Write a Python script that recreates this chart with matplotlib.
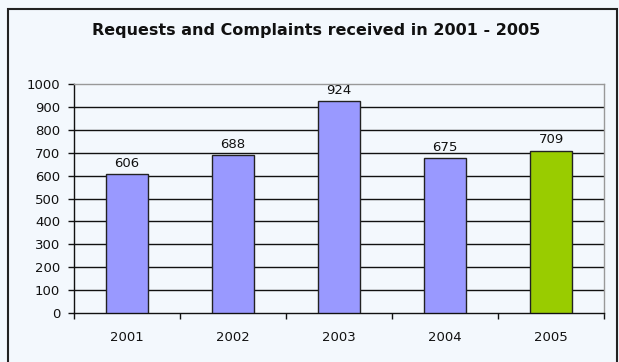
import matplotlib.pyplot as plt
from matplotlib.patches import Rectangle

years = ['2001', '2002', '2003', '2004', '2005']
requests = [606, 688, 924, 675, 709]
bar_colors = ['#9999FF', '#9999FF', '#9999FF', '#9999FF', '#99CC00']
y_ticks = [0, 100, 200, 300, 400, 500, 600, 700, 800, 900, 1000]

plt.rcParams['font.family'] = ['DejaVu Sans']

bg = '#F3F8FD'
W, H = 619, 362
fig = plt.figure(figsize=(W / 100, H / 100), dpi=100)
fig.patch.set_facecolor(bg)

# outer chart frame (bottom edge runs off the image)
fig.patches.append(Rectangle((8 / W, -0.05), 609 / W, (H - 9) / H + 0.05,
                             transform=fig.transFigure, facecolor='none',
                             edgecolor='#222222', linewidth=1.5))

fig.text(316 / W, 1 - 31 / H, 'Requests and Complaints received in 2001 - 2005',
         ha='center', va='center', fontsize=11.5, fontweight='bold', color='#111111')

ax = fig.add_axes([74 / W, (H - 313) / H, 530 / W, 229 / H])
ax.set_facecolor(bg)

x = list(range(len(years)))
ax.bar(x, requests, width=0.4, color=bar_colors, edgecolor='#222222',
       linewidth=1, zorder=3)
for xi, v in zip(x, requests):
    ax.text(xi, v + 20, str(v), ha='center', va='bottom', fontsize=9.5, color='#111111')

ax.set_xlim(-0.5, len(years) - 0.5)
ax.set_ylim(0, 1000)

for yv in y_ticks[1:-1]:
    ax.axhline(yv, color='#111111', linewidth=1, zorder=1)

ax.set_yticks(y_ticks)
ax.tick_params(axis='y', direction='out', length=4, width=1, pad=6,
               labelsize=9.5, colors='#111111')

# category separators as major ticks, year labels on minor ticks
ax.set_xticks([i - 0.5 for i in range(len(years) + 1)])
ax.set_xticklabels([])
ax.set_xticks(x, minor=True)
ax.set_xticklabels(years, minor=True)
ax.tick_params(axis='x', which='major', direction='out', length=4, width=1, colors='#111111')
ax.tick_params(axis='x', which='minor', length=0, pad=13, labelsize=9.5, colors='#111111')

for side in ('left', 'bottom'):
    ax.spines[side].set_color('#111111')
    ax.spines[side].set_linewidth(1)
for side in ('top', 'right'):
    ax.spines[side].set_color('#999999')
    ax.spines[side].set_linewidth(1)

fig.savefig('out.png', dpi=100, facecolor=bg)
